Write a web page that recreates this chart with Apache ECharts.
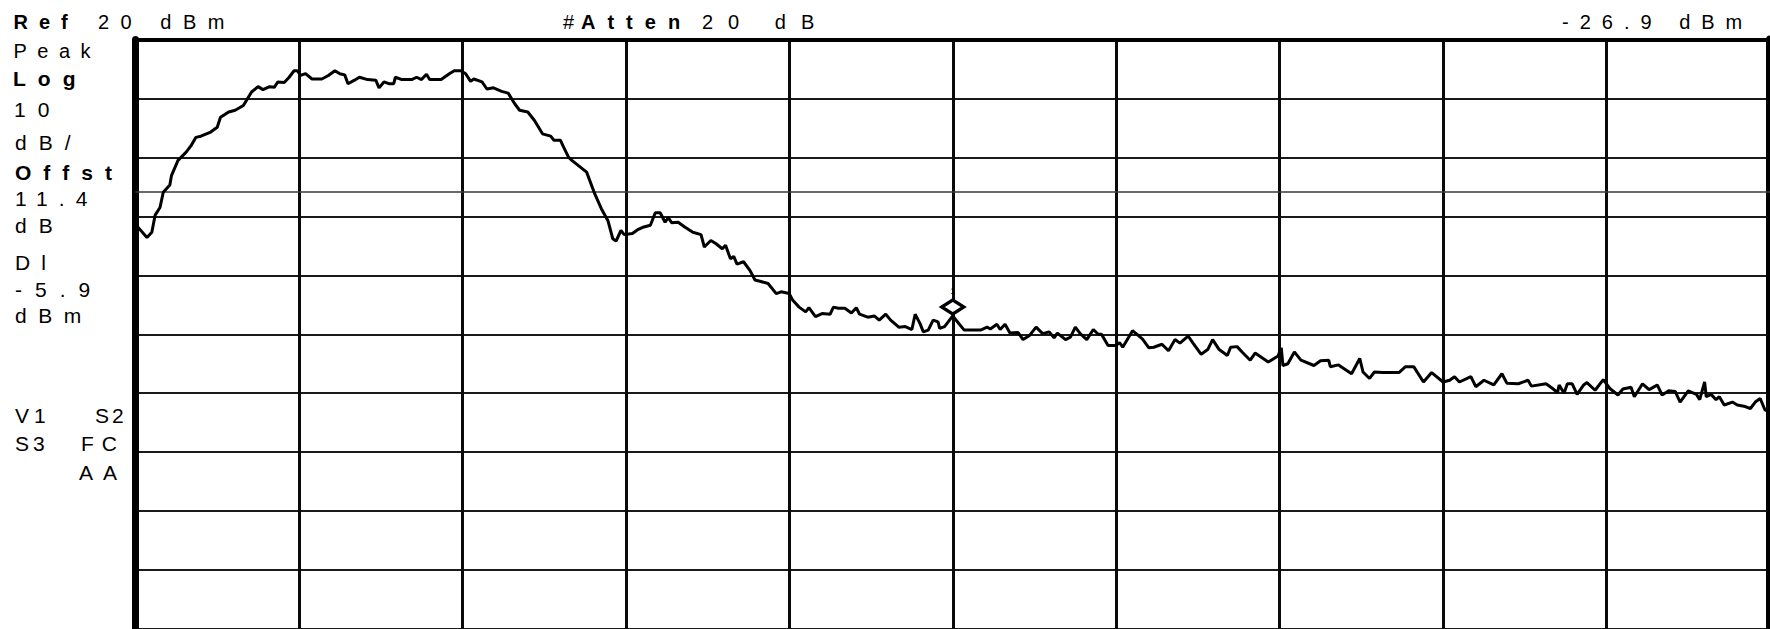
<!DOCTYPE html>
<html><head><meta charset="utf-8">
<script src="https://cdn.jsdelivr.net/npm/echarts@6/dist/echarts.min.js"></script>
<style>
html,body{margin:0;padding:0;background:#fff;overflow:hidden;}
#c{width:1770px;height:629px;}
</style></head><body><div id="c"></div>
<script>
// ---- data (x in graticule divisions, level in dBm) ----
const freqDiv = [
 0.00,0.02,0.07,0.10,0.12,0.15,0.17,0.21,0.22,0.26,
 0.31,0.34,0.37,0.40,0.46,0.50,0.52,0.57,0.61,0.66,
 0.71,0.75,0.78,0.82,0.85,0.87,0.91,0.94,0.97,0.99,
 1.01,1.04,1.08,1.14,1.18,1.22,1.25,1.28,1.30,1.34,
 1.37,1.42,1.47,1.49,1.52,1.55,1.58,1.59,1.63,1.69,
 1.72,1.75,1.78,1.80,1.87,1.92,1.95,1.99,2.02,2.05,
 2.07,2.12,2.15,2.19,2.24,2.28,2.32,2.35,2.40,2.44,
 2.49,2.54,2.56,2.60,2.62,2.65,2.67,2.71,2.76,2.81,
 2.85,2.89,2.92,2.94,2.97,2.99,3.04,3.07,3.11,3.15,
 3.18,3.21,3.24,3.26,3.28,3.32,3.36,3.41,3.46,3.48,
 3.52,3.55,3.59,3.61,3.64,3.66,3.68,3.72,3.76,3.79,
 3.82,3.87,3.92,3.95,4.00,4.02,4.06,4.10,4.12,4.16,
 4.20,4.25,4.27,4.30,4.34,4.38,4.41,4.43,4.48,4.52,
 4.55,4.59,4.62,4.67,4.71,4.75,4.77,4.80,4.82,4.85,
 4.88,4.91,4.92,4.95,4.98,5.00,5.07,5.17,5.21,5.23,
 5.27,5.29,5.32,5.35,5.40,5.43,5.47,5.51,5.55,5.59,
 5.62,5.64,5.69,5.72,5.75,5.78,5.82,5.86,5.89,5.91,
 5.95,6.00,6.02,6.04,6.10,6.16,6.20,6.23,6.28,6.32,
 6.36,6.39,6.44,6.47,6.52,6.56,6.59,6.63,6.68,6.70,
 6.74,6.77,6.82,6.85,6.93,6.99,7.01,7.02,7.05,7.09,
 7.13,7.21,7.25,7.30,7.31,7.36,7.44,7.49,7.51,7.55,
 7.58,7.63,7.73,7.77,7.82,7.88,7.93,8.00,8.04,8.07,
 8.10,8.17,8.20,8.25,8.31,8.36,8.39,8.46,8.52,8.54,
 8.63,8.67,8.70,8.71,8.74,8.76,8.79,8.82,8.86,8.88,
 8.93,8.98,9.02,9.07,9.10,9.15,9.17,9.22,9.26,9.28,
 9.31,9.34,9.38,9.42,9.45,9.50,9.55,9.57,9.60,9.61,
 9.64,9.67,9.69,9.72,9.77,9.80,9.84,9.88,9.91,9.94,
 9.97,10.00
];
const levelDbm = [
 -11.3,-12.0,-13.6,-12.7,-9.8,-8.5,-5.9,-4.7,-3.1,-0.5,
 0.9,2.0,3.4,3.6,4.3,5.1,6.8,7.7,8.0,8.8,
 11.1,12.0,11.5,12.0,11.9,12.8,12.7,13.6,14.7,14.7,
 13.9,14.2,13.3,13.3,13.9,14.7,14.2,14.0,12.5,13.1,
 13.6,13.2,13.1,11.8,12.8,12.5,12.5,13.6,13.2,13.2,
 13.6,13.2,14.1,13.2,13.2,14.2,14.7,14.7,14.2,12.9,
 13.3,12.8,11.6,11.8,11.2,10.9,9.1,8.0,7.7,6.3,
 4.0,3.6,2.9,2.9,1.7,0.0,-0.5,-1.4,-2.5,-6.2,
 -8.7,-10.7,-13.8,-14.2,-12.4,-13.1,-12.9,-12.3,-11.8,-11.5,
 -9.4,-9.4,-11.0,-10.2,-11.1,-11.0,-11.8,-12.7,-13.1,-15.2,
 -14.1,-14.6,-15.5,-14.9,-17.2,-16.8,-18.1,-17.7,-19.2,-20.8,
 -21.0,-21.4,-23.1,-22.8,-23.1,-24.2,-25.4,-26.2,-25.5,-27.0,
 -26.5,-26.6,-25.4,-25.6,-25.6,-26.4,-25.5,-26.6,-27.1,-26.9,
 -27.6,-26.6,-27.6,-28.8,-28.7,-29.2,-26.6,-28.2,-29.6,-29.3,
 -27.6,-27.9,-29.0,-28.7,-27.6,-26.9,-29.3,-29.3,-28.8,-29.1,
 -28.3,-29.2,-28.3,-29.8,-29.7,-30.9,-30.2,-28.8,-29.9,-29.6,
 -30.6,-29.8,-30.9,-30.5,-28.8,-29.9,-30.9,-29.2,-30.0,-30.0,
 -31.9,-31.9,-31.4,-32.2,-29.4,-30.8,-32.3,-32.2,-31.7,-32.8,
 -30.9,-31.5,-30.3,-31.5,-33.4,-32.6,-30.9,-32.6,-33.6,-32.2,
 -32.1,-33.0,-34.4,-33.2,-34.7,-33.7,-32.3,-35.3,-35.0,-33.0,
 -34.4,-35.3,-34.5,-34.4,-35.5,-35.2,-36.7,-34.1,-36.4,-37.5,
 -36.4,-36.5,-36.5,-35.5,-35.5,-38.1,-36.5,-38.1,-37.8,-37.2,
 -38.1,-37.2,-38.9,-37.8,-38.6,-36.7,-38.3,-38.4,-37.8,-38.8,
 -38.4,-39.2,-39.9,-38.6,-40.0,-38.4,-38.4,-40.2,-38.6,-38.2,
 -39.5,-37.7,-39.2,-40.3,-39.3,-39.0,-40.6,-38.4,-39.4,-39.1,
 -38.6,-40.3,-39.6,-39.7,-41.5,-39.6,-40.2,-41.1,-38.1,-40.6,
 -40.2,-41.1,-40.6,-42.0,-41.5,-42.0,-42.2,-42.6,-41.5,-40.9,
 -42.9,-42.9
];
const refLevel = 20;          // dBm, top of screen
const dbPerDiv = 10;
const bottomLevel = -80;
const displayLine = -5.9;     // Dl
const markerFreq = 5.0;
const markerLevel = -26.9;

const FAM = 'Liberation Sans, Arial, Helvetica, sans-serif';
const FONTS = {
  n20:'normal 20px ' + FAM, b20:'bold 20px ' + FAM,
  n21:'normal 21px ' + FAM, b21:'bold 21px ' + FAM
};
// [text, x, y, font, letter-spacing]
const annot = [
  ['Ref', 13.5, 21.5, 'b20', 11],
  ['20 dBm', 98, 21.5, 'n20', 11.5],
  ['#', 563, 21.5, 'n20', 0],
  ['Atten', 581, 21.5, 'b20', 12],
  ['20 dB', 702, 21.5, 'n20', 15],
  ['-26.9 dBm', 1562, 21.5, 'n20', 11],
  ['Peak', 13.5, 51, 'n20', 10.5],
  ['Log', 13, 78, 'b21', 12],
  ['10', 14, 109, 'n21', 12],
  ['dB/', 15, 142.5, 'n21', 12],
  ['Offst', 15, 172.5, 'b21', 12],
  ['11.4', 15, 198, 'n21', 11],
  ['dB', 15, 225, 'n21', 12],
  ['Dl', 15, 262.5, 'n21', 11],
  ['-5.9', 15, 289, 'n21', 13],
  ['dBm', 15, 315.5, 'n21', 11.5],
  ['V1', 15, 415.5, 'n21', 5],
  ['S2', 95, 415.5, 'n21', 3],
  ['S3', 15, 443.5, 'n21', 4],
  ['FC', 81, 443.5, 'n21', 8],
  ['AA', 79, 472, 'n21', 10]
];
const spacingByText = {};
const graphics = annot.map(a => {
  spacingByText[a[0]] = a[4];
  return {type:'text', x:a[1], y:a[2], silent:true,
    style:{text:a[0], font:FONTS[a[3]], fill:'#000', align:'left', verticalAlign:'middle'}};
});

const chart = echarts.init(document.getElementById('c'), null, {renderer:'svg'});
chart.setOption({
  animation:false,
  backgroundColor:'#fff',
  grid:{left:135.5, top:39.5, width:1635, height:591, show:false},
  xAxis:{type:'value', min:0, max:10, interval:1, position:'top',
    axisLine:{show:true, onZero:false, lineStyle:{color:'#000', width:4}},
    axisTick:{show:false}, axisLabel:{show:false},
    splitLine:{show:true, lineStyle:{color:'#0a0a0a', width:3}}},
  yAxis:[
    {type:'value', min:bottomLevel, max:refLevel, interval:dbPerDiv, position:'left',
     axisLine:{show:true, onZero:false, lineStyle:{color:'#000', width:7}},
     axisTick:{show:false}, axisLabel:{show:false},
     splitLine:{show:true, lineStyle:{color:'#1a1a1a', width:2}}},
    {type:'value', min:bottomLevel, max:refLevel, interval:dbPerDiv, position:'right',
     axisLine:{show:true, onZero:false, lineStyle:{color:'#000', width:8}},
     axisTick:{show:false}, axisLabel:{show:false}, splitLine:{show:false}}
  ],
  graphic: graphics,
  series:[{
    type:'line', yAxisIndex:0, showSymbol:false, symbol:'none', smooth:false,
    data: freqDiv.map((f,i)=>[f, levelDbm[i]]),
    lineStyle:{color:'#000', width:3}, z:5,
    markLine:{silent:true, symbol:'none', label:{show:false},
      lineStyle:{color:'#3a3a3a', width:1.6, type:'solid'},
      data:[{yAxis:displayLine}]},
    markPoint:{silent:true, symbol:'diamond', symbolSize:[22,14], symbolOffset:[0,-9],
      itemStyle:{color:'#fff', borderColor:'#000', borderWidth:3.5},
      label:{show:true, formatter:'1', position:'top', distance:3, fontSize:9, color:'#000'},
      data:[{coord:[markerFreq, markerLevel]}]}
  }]
});
function applySpacing(){
  document.querySelectorAll('#c svg text').forEach(t => {
    const s = spacingByText[t.textContent];
    if (s != null) t.style.letterSpacing = s + 'px';
  });
}
applySpacing();
chart.on('finished', applySpacing);
setTimeout(applySpacing, 0);
</script></body></html>
